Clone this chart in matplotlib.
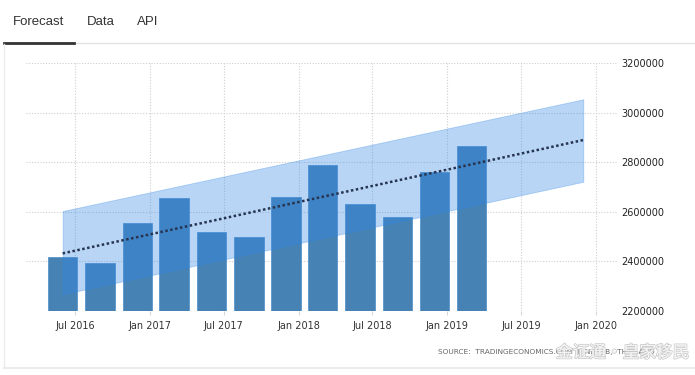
import matplotlib
matplotlib.use("Agg")
import matplotlib.pyplot as plt
import matplotlib.dates as mdates
import matplotlib.patheffects as pe
from matplotlib.lines import Line2D
import pandas as pd

# quarterly values (bars), dated at the middle of each quarter's bar
quarter_dates = [
    "2016-06-01", "2016-09-01", "2016-12-01", "2017-03-01",
    "2017-06-01", "2017-09-01", "2017-12-01", "2018-03-01",
    "2018-06-01", "2018-09-01", "2018-12-01", "2019-03-01",
]
values = [
    2418600, 2394000, 2553500, 2657000,
    2519600, 2499400, 2661000, 2788000,
    2631500, 2577800, 2760800, 2865900,
]

# forecast band + trend line (start / end)
band_dates = ["2016-06-01", "2019-12-01"]
band_upper = [2603000, 3054500]
band_lower = [2266700, 2721600]
trend = [2432000, 2890000]

tick_dates = ["2016-07-01", "2017-01-01", "2017-07-01", "2018-01-01",
              "2018-07-01", "2019-01-01", "2019-07-01", "2020-01-01"]
y_ticks = [2200000, 2400000, 2600000, 2800000, 3000000, 3200000]

W, H = 695, 375
fig = plt.figure(figsize=(W / 100, H / 100), dpi=100)


def fx(px):
    return px / W


def fy(py):
    return 1 - py / H


ax = fig.add_axes([fx(26), fy(310.8), fx(616.7 - 26), (310.8 - 63.3) / H])

qd = pd.to_datetime(quarter_dates)
bd = pd.to_datetime(band_dates)

ax.bar(qd, values, width=72, color="#4682b4", edgecolor="#5a96cc",
       linewidth=0.6, zorder=2)
ax.fill_between(bd, band_lower, band_upper, color="#2f86e6", alpha=0.34,
                edgecolor="#2f86e6", linewidth=0.6, zorder=3)
ax.plot(bd, trend, color="#27344f", linestyle=(0, (1, 1)), linewidth=1.8,
        zorder=4)

ax.set_xlim(pd.Timestamp("2016-03-03"), pd.Timestamp("2020-02-21"))
ax.set_ylim(2200000, 3200000)

ax.set_xticks(pd.to_datetime(tick_dates))
ax.xaxis.set_major_formatter(mdates.DateFormatter("%b %Y"))
ax.set_yticks(y_ticks)
ax.set_yticklabels([str(v) for v in y_ticks])

ax.yaxis.tick_right()
ax.tick_params(axis="y", length=0, pad=3, labelsize=7, labelcolor="#222222")
ax.tick_params(axis="x", length=3, color="#d8d8d8", pad=4, labelsize=7,
               labelcolor="#333333")

ax.grid(True, linestyle=(0, (1, 1.5)), color="#cfcfcf", linewidth=0.8, zorder=0)
ax.set_axisbelow(True)
for s in ax.spines.values():
    s.set_visible(False)

# tabs
tab_font = dict(family="Liberation Sans", fontsize=9.5, color="#333333",
                va="center", ha="left")
fig.text(fx(13), fy(22), "Forecast", **tab_font)
fig.text(fx(87), fy(22), "Data", **tab_font)
fig.text(fx(137), fy(22), "API", **tab_font)

fig.add_artist(Line2D([fx(74), fx(695)], [fy(43), fy(43)], color="#e2e2e2",
                      linewidth=1))
fig.add_artist(Line2D([fx(4), fx(74)], [fy(43), fy(43)], color="#333333",
                      linewidth=2))
# card border
fig.add_artist(Line2D([fx(4), fx(4)], [fy(44), fy(368)], color="#ececec",
                      linewidth=1))
fig.add_artist(Line2D([fx(4), fx(695)], [fy(368), fy(368)], color="#ececec",
                      linewidth=1.5))

fig.text(fx(438), fy(352), "SOURCE:  TRADINGECONOMICS.COM  |  NESDB,  THAILAND",
         fontsize=5.3, color="#666666", va="center", ha="left")

wm = fig.text(fx(556), fy(353), "金证通·皇家移民", family=["Noto Sans CJK SC", "DejaVu Sans"],
              fontsize=12, color="#f4f4f4", va="center", ha="left", alpha=0.9)
wm.set_path_effects([pe.withStroke(linewidth=1.2, foreground="#c4c4c4"), pe.Normal()])

fig.savefig("out.png", dpi=100)
